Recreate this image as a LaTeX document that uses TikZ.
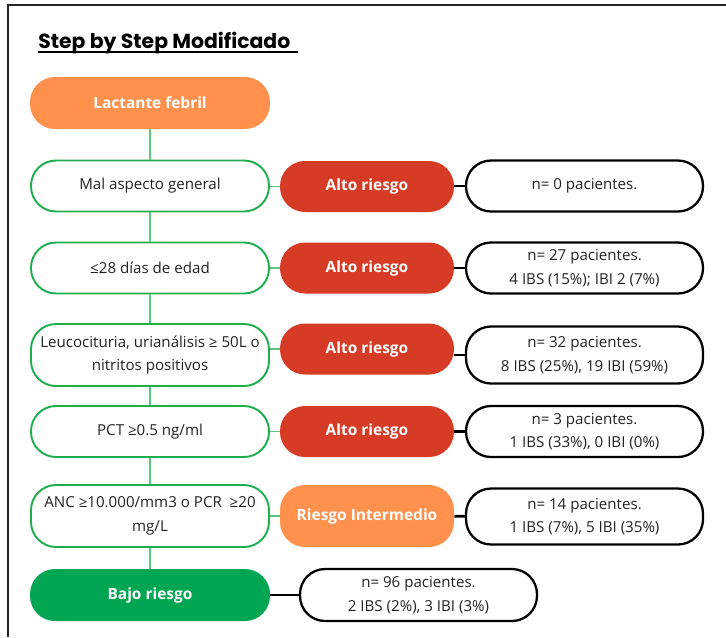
\documentclass[tikz,border=0pt]{standalone}
\usepackage{fontspec}
\setmainfont{Open Sans}
\newfontfamily\titlefont{Poppins}
\usetikzlibrary{positioning}

\definecolor{naranja}{HTML}{FF914D}
\definecolor{rojo}{HTML}{D63B26}
\definecolor{verde}{HTML}{00A651}
\definecolor{verdeborde}{HTML}{1FAE4F}
\definecolor{verdelinea}{HTML}{5CC67F}
\definecolor{texto}{HTML}{222222}

\tikzset{
	base/.style={rectangle, rounded corners=0.5cm, align=center,
		text=texto, font=\fontsize{8.6}{13.4}\selectfont},
	criterio/.style={base, draw=verdeborde, line width=1.1pt,
		minimum width=4.76cm, minimum height=1.02cm},
	riesgo/.style={base, fill=rojo, text=white,
		font=\bfseries\fontsize{8.8}{10}\selectfont,
		minimum width=3.48cm, minimum height=1.02cm},
	resultado/.style={base, draw=black, line width=1.3pt,
		minimum width=4.74cm, minimum height=1.02cm},
	rama/.style={draw=verdelinea, line width=0.7pt},
	union/.style={draw=black, line width=1.5pt},
}

\begin{document}
\begin{tikzpicture}[x=0.02cm, y=-0.02cm]

\useasboundingbox (0,0) rectangle (726,637);

% Marco
\draw[line width=1.3pt, black!85] (8,637) -- (8,5) -- (726,5);

% Titulo
\node [anchor=base west, inner sep=0pt,
	font=\titlefont\bfseries\fontsize{11.6}{13}\selectfont
] (titulo) at (38,48) {Step by Step Modificado};
\draw[line width=0.9pt] ([yshift=-2.2pt]titulo.base west) -- ([yshift=-2.2pt, xshift=4pt]titulo.base east);

% Lactante febril
\node [base, fill=naranja, text=white,
	font=\bfseries\fontsize{8.8}{10}\selectfont,
	minimum width=4.8cm, minimum height=1.04cm
] (lactante) at (150, 103) {Lactante febril};

% Mal aspecto general
\node [criterio] (aspecto) at (150, 186) {Mal aspecto general};
\node [riesgo] (alto_1) at (367, 186.5) {Alto riesgo};
\node [resultado] (n_1) at (584.5, 186) {n= 0 pacientes.};

% Edad
\node [criterio] (edad) at (150, 268) {≤28 días de edad};
\node [riesgo] (alto_2) at (367, 268) {Alto riesgo};
\node [resultado] (n_2) at (584.5, 268) {n= 27 pacientes.\\ 4 IBS (15\%); IBI 2 (7\%)};

% Leucocituria
\node [criterio, minimum height=1.24cm] (leucocituria) at (150, 355) {Leucocituria, urianálisis ≥ 50L o\\ nitritos positivos};
\node [riesgo] (alto_3) at (367, 349) {Alto riesgo};
\node [resultado, minimum height=1.14cm] (n_3) at (584.5, 355) {n= 32 pacientes.\\ 8 IBS (25\%), 19 IBI (59\%)};

% PCT
\node [criterio] (pct) at (150, 431.5) {PCT ≥0.5 ng/ml};
\node [riesgo] (alto_4) at (367, 431.5) {Alto riesgo};
\node [resultado] (n_4) at (584.5, 431.5) {n= 3 pacientes.\\ 1 IBS (33\%), 0 IBI (0\%)};

% ANC o PCR
\node [criterio, minimum height=1.24cm] (anc) at (150, 516) {ANC ≥10.000/mm3 o PCR \ ≥20\\ mg/L};
\node [riesgo, fill=naranja, minimum height=1.24cm] (intermedio) at (367, 516) {Riesgo Intermedio};
\node [resultado, minimum height=1.12cm] (n_5) at (584.5, 516.5) {n= 14 pacientes.\\ 1 IBS (7\%), 5 IBI (35\%)};

% Bajo riesgo
\node [base, fill=verde, text=white,
	font=\bfseries\fontsize{8.8}{10}\selectfont,
	minimum width=4.8cm, minimum height=1.04cm
] (bajo) at (150, 595) {Bajo riesgo};
\node [resultado, minimum height=1.04cm] (n_6) at (418.5, 595) {n= 96 pacientes.\\ 2 IBS (2\%), 3 IBI (3\%)};

% Tronco
\draw[rama] (lactante) -- (aspecto);
\draw[rama] (aspecto) -- (edad);
\draw[rama] (edad) -- (leucocituria);
\draw[rama] (leucocituria) -- (pct);
\draw[rama] (pct) -- (anc);
\draw[rama] (anc) -- (bajo);

% Ramas
\draw[rama] (aspecto.east |- alto_1) -- (alto_1);
\draw[rama] (edad) -- (alto_2);
\draw[rama] (leucocituria.east |- alto_3) -- (alto_3);
\draw[rama] (pct) -- (alto_4);
\draw[rama] (anc) -- (intermedio);

\draw[union] (alto_1.east |- n_1) -- (n_1);
\draw[union] (alto_2) -- (n_2);
\draw[union] (alto_3.east |- n_3) -- (n_3);
\draw[union] (alto_4) -- (n_4);
\draw[union] (intermedio) -- (n_5);
\draw[union] (bajo) -- (n_6);

\end{tikzpicture}
\end{document}
